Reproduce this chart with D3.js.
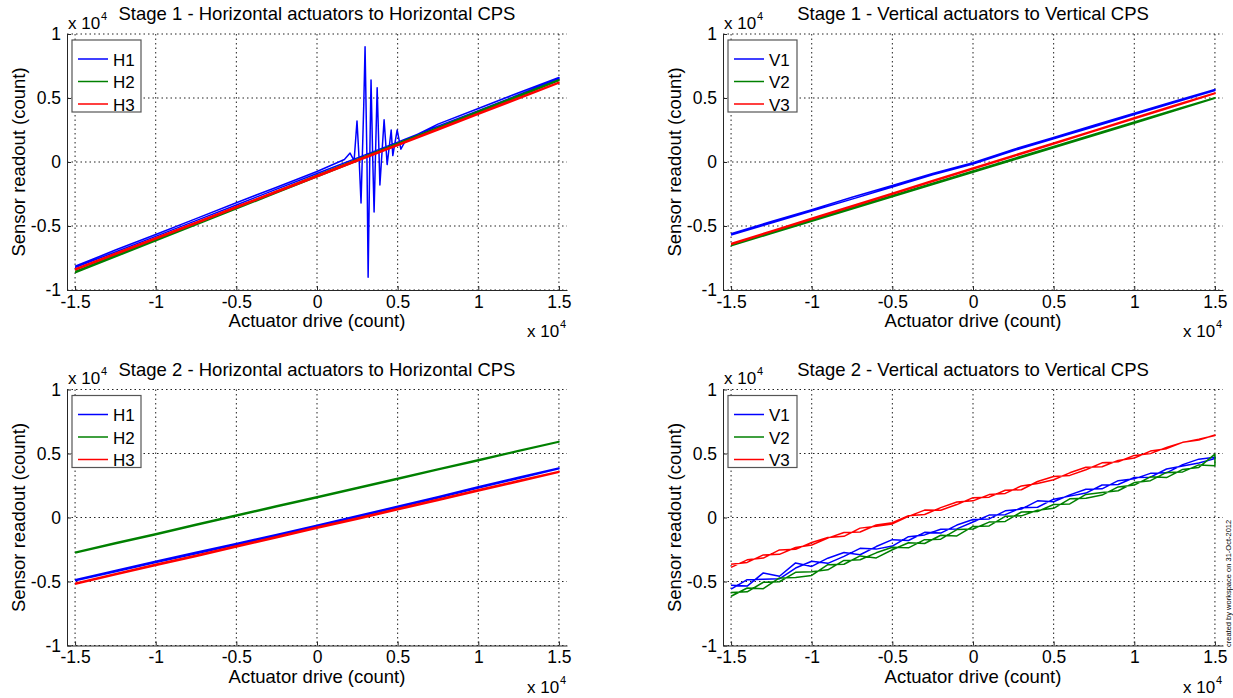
<!DOCTYPE html>
<html>
<head>
<meta charset="utf-8">
<script src="https://cdn.jsdelivr.net/npm/d3@7"></script>
<style>
  body { margin: 0; background: #fff; }
  svg { display: block; }
  text { font-family: "Liberation Sans", Arial, sans-serif; fill: #000; }
</style>
</head>
<body>
<svg id="chart" width="1233" height="698"></svg>
<script>
// ---- data (units of 1e4 counts) ----
var xTicks = [-1.5, -1, -0.5, 0, 0.5, 1, 1.5]
var yTicks = [-1, -0.5, 0, 0.5, 1]

var titles = [
  'Stage 1 - Horizontal actuators to Horizontal CPS',
  'Stage 1 - Vertical actuators to Vertical CPS',
  'Stage 2 - Horizontal actuators to Horizontal CPS',
  'Stage 2 - Vertical actuators to Vertical CPS'
]
var hNames = ['H1', 'H2', 'H3']
var vNames = ['V1', 'V2', 'V3']
var colors = ['#0000ff', '#008000', '#ff0000']

// coarse sweep grid for the smooth panels
var sweepX = [-1.5, -1.25, -1, -0.75, -0.5, -0.25, 0, 0.25, 0.5, 0.75, 1, 1.25, 1.5]
// fine sweep grid for the noisy stage 2 vertical panel
var fineX = [-1.5, -1.4, -1.3, -1.2, -1.1, -1, -0.9, -0.8, -0.7, -0.6, -0.5, -0.4, -0.3, -0.2, -0.1,
  0, 0.1, 0.2, 0.3, 0.4, 0.5, 0.6, 0.7, 0.8, 0.9, 1, 1.1, 1.2, 1.3, 1.4, 1.5]

// stage 1 horizontal
var s1H1up = [-0.815, -0.688, -0.566, -0.442, -0.318, -0.197, -0.074, 0.048, 0.172, 0.296, 0.418, 0.541, 0.660]
var s1H1dn = [-0.825, -0.703, -0.581, -0.458, -0.336, -0.212, -0.090, 0.032, 0.155, 0.279, 0.401, 0.525, 0.650]
var s1H2up = [-0.855, -0.728, -0.604, -0.478, -0.354, -0.228, -0.104, 0.021, 0.146, 0.270, 0.396, 0.520, 0.643]
var s1H2dn = [-0.865, -0.741, -0.615, -0.491, -0.366, -0.241, -0.116, 0.009, 0.134, 0.259, 0.384, 0.510, 0.637]
var s1H3up = [-0.836, -0.713, -0.592, -0.470, -0.348, -0.227, -0.105, 0.017, 0.138, 0.260, 0.382, 0.503, 0.624]
var s1H3dn = [-0.844, -0.723, -0.602, -0.480, -0.358, -0.237, -0.115, 0.007, 0.128, 0.250, 0.372, 0.493, 0.616]
// ringing burst on H1 during the up sweep
var h1BurstX = [0.17, 0.205, 0.23, 0.248, 0.262, 0.273, 0.29, 0.298, 0.31, 0.317, 0.328, 0.335, 0.345,
  0.354, 0.373, 0.39, 0.416, 0.435, 0.46, 0.47, 0.497, 0.52, 0.55]
var h1BurstY = [0.02, 0.07, 0.01, 0.32, 0.0, -0.32, 0.45, 0.9, 0.0, -0.9, 0.1, 0.64, 0.05,
  -0.39, 0.58, -0.18, 0.33, -0.02, 0.25, 0.05, 0.25, 0.1, 0.17]

// stage 1 vertical
var s1V1up = [-0.560, -0.465, -0.372, -0.276, -0.183, -0.090, -0.005, 0.098, 0.192, 0.287, 0.381, 0.474, 0.566]
var s1V1dn = [-0.570, -0.476, -0.383, -0.290, -0.195, -0.100, -0.015, 0.088, 0.182, 0.276, 0.370, 0.465, 0.559]
var s1V2up = [-0.645, -0.550, -0.452, -0.358, -0.262, -0.166, -0.070, 0.026, 0.121, 0.217, 0.313, 0.408, 0.503]
var s1V2dn = [-0.655, -0.559, -0.463, -0.368, -0.272, -0.176, -0.080, 0.016, 0.112, 0.207, 0.303, 0.400, 0.497]
var s1V3up = [-0.636, -0.538, -0.440, -0.341, -0.244, -0.145, -0.047, 0.051, 0.149, 0.247, 0.345, 0.443, 0.540]
var s1V3dn = [-0.644, -0.546, -0.448, -0.350, -0.252, -0.153, -0.055, 0.043, 0.141, 0.239, 0.337, 0.435, 0.534]

// stage 2 horizontal
var s2H1up = [-0.486, -0.413, -0.342, -0.272, -0.203, -0.133, -0.060, 0.013, 0.088, 0.163, 0.240, 0.315, 0.387]
var s2H1dn = [-0.494, -0.423, -0.352, -0.284, -0.213, -0.143, -0.070, 0.003, 0.078, 0.153, 0.230, 0.305, 0.381]
var s2H2up = [-0.271, -0.198, -0.126, -0.053, 0.019, 0.091, 0.163, 0.235, 0.307, 0.380, 0.452, 0.523, 0.594]
var s2H2dn = [-0.277, -0.206, -0.134, -0.061, 0.011, 0.083, 0.155, 0.227, 0.299, 0.372, 0.444, 0.517, 0.590]
var s2H3up = [-0.513, -0.440, -0.366, -0.294, -0.221, -0.148, -0.075, -0.003, 0.070, 0.143, 0.216, 0.289, 0.360]
var s2H3dn = [-0.521, -0.448, -0.376, -0.304, -0.231, -0.158, -0.085, -0.013, 0.060, 0.133, 0.206, 0.279, 0.354]

// stage 2 vertical (noisy)
var s2V1up = [-0.53, -0.536, -0.433, -0.459, -0.355, -0.382, -0.318, -0.274, -0.291, -0.227, -0.173, -0.18, -0.116, -0.122, -0.059,
  -0.015, -0.011, 0.052, 0.066, 0.13, 0.123, 0.177, 0.221, 0.224, 0.288, 0.302, 0.345, 0.349, 0.413, 0.456, 0.47]
var s2V1dn = [-0.56, -0.486, -0.483, -0.479, -0.395, -0.342, -0.358, -0.304, -0.241, -0.247, -0.223, -0.15, -0.136, -0.092, -0.089,
  -0.035, 0.019, 0.022, 0.076, 0.08, 0.143, 0.167, 0.191, 0.254, 0.258, 0.312, 0.315, 0.379, 0.403, 0.426, 0.46]
var s2V2up = [-0.615, -0.551, -0.556, -0.472, -0.468, -0.453, -0.369, -0.365, -0.30, -0.316, -0.252, -0.197, -0.203, -0.139, -0.144,
  -0.07, -0.066, 0.009, 0.013, 0.057, 0.072, 0.146, 0.15, 0.175, 0.239, 0.253, 0.318, 0.312, 0.376, 0.391, 0.495]
var s2V2dn = [-0.585, -0.581, -0.506, -0.502, -0.428, -0.423, -0.409, -0.335, -0.33, -0.276, -0.232, -0.237, -0.173, -0.169, -0.094,
  -0.09, -0.036, -0.031, 0.043, 0.047, 0.102, 0.106, 0.18, 0.195, 0.209, 0.273, 0.288, 0.352, 0.356, 0.411, 0.405]
var s2V3up = [-0.39, -0.331, -0.317, -0.253, -0.249, -0.195, -0.156, -0.147, -0.083, -0.069, -0.05, 0.009, 0.058, 0.057, 0.101,
  0.155, 0.159, 0.213, 0.217, 0.281, 0.32, 0.329, 0.373, 0.427, 0.436, 0.485, 0.499, 0.548, 0.587, 0.606, 0.645]
var s2V3dn = [-0.365, -0.351, -0.292, -0.288, -0.234, -0.215, -0.161, -0.117, -0.113, -0.059, -0.04, 0.014, 0.023, 0.077, 0.121,
  0.13, 0.179, 0.188, 0.247, 0.266, 0.295, 0.349, 0.393, 0.397, 0.446, 0.465, 0.519, 0.538, 0.587, 0.611, 0.64]

// ---- build series: up sweep then return sweep ----
function sweep(xs, up, dn){
  var pts = xs.map(function(x, i){ return [x, up[i]] })
  for(var i = xs.length - 1; i >= 0; i--) pts.push([xs[i], dn[i]])
  return pts
}

// H1 up sweep with the burst merged in
function h1Stage1(){
  var lo = h1BurstX[0], hi = h1BurstX[h1BurstX.length - 1]
  var up = sweepX.map(function(x, i){ return [x, s1H1up[i]] })
    .filter(function(p){ return p[0] < lo || p[0] > hi })
    .concat(h1BurstX.map(function(x, i){ return [x, h1BurstY[i]] }))
    .sort(function(a, b){ return a[0] - b[0] })
  for(var i = sweepX.length - 1; i >= 0; i--) up.push([sweepX[i], s1H1dn[i]])
  return up
}

var panels = [
  { title: titles[0], names: hNames, series: [h1Stage1(), sweep(sweepX, s1H2up, s1H2dn), sweep(sweepX, s1H3up, s1H3dn)] },
  { title: titles[1], names: vNames, series: [sweep(sweepX, s1V1up, s1V1dn), sweep(sweepX, s1V2up, s1V2dn), sweep(sweepX, s1V3up, s1V3dn)] },
  { title: titles[2], names: hNames, series: [sweep(sweepX, s2H1up, s2H1dn), sweep(sweepX, s2H2up, s2H2dn), sweep(sweepX, s2H3up, s2H3dn)] },
  { title: titles[3], names: vNames, series: [sweep(fineX, s2V1up, s2V1dn), sweep(fineX, s2V2up, s2V2dn), sweep(fineX, s2V3up, s2V3dn)] }
]

// ---- layout ----
var pw = 500
  , ph = 256
  , boxes = [[67, 34], [723, 34], [67, 389.5], [723, 389.5]]
  , svg = d3.select('#chart')
  , fmt = function(d){ return String(d) }

svg.append('rect').attr('width', 1233).attr('height', 698).attr('fill', '#fff')

panels.forEach(function(p, k){
  var left = boxes[k][0]
    , top = boxes[k][1]
    , x = d3.scaleLinear().domain([-1.55, 1.55]).range([left, left + pw])
    , y = d3.scaleLinear().domain([-1, 1]).range([top + ph, top])
    , g = svg.append('g')

  // dotted grid
  g.selectAll('line.gx').data(xTicks).enter().append('line')
    .attr('class', 'gx')
    .attr('x1', function(d){ return x(d) }).attr('x2', function(d){ return x(d) })
    .attr('y1', top).attr('y2', top + ph)
  g.selectAll('line.gy').data(yTicks).enter().append('line')
    .attr('class', 'gy')
    .attr('x1', left).attr('x2', left + pw)
    .attr('y1', function(d){ return y(d) }).attr('y2', function(d){ return y(d) })
  g.selectAll('line.gx, line.gy')
    .attr('stroke', '#222').attr('stroke-width', 1).attr('stroke-dasharray', '1.5,3')

  // traces
  var line = d3.line().x(function(d){ return x(d[0]) }).y(function(d){ return y(d[1]) })
  g.selectAll('path.trace').data(p.series).enter().append('path')
    .attr('class', 'trace')
    .attr('d', line)
    .attr('fill', 'none')
    .attr('stroke', function(d, i){ return colors[i] })
    .attr('stroke-width', 1.5)
    .attr('stroke-linejoin', 'round')

  // axes
  var xa = g.append('g').attr('transform', 'translate(0,' + (top + ph) + ')')
    .call(d3.axisBottom(x).tickValues(xTicks).tickFormat(fmt).tickSizeInner(-4).tickSizeOuter(0).tickPadding(5.5))
  var ya = g.append('g').attr('transform', 'translate(' + left + ',0)')
    .call(d3.axisLeft(y).tickValues(yTicks).tickFormat(fmt).tickSizeInner(-4).tickSizeOuter(0).tickPadding(6))
  ;[xa, ya].forEach(function(a){
    a.attr('font-family', null).attr('font-size', null)
    a.selectAll('path, line').attr('stroke', '#262626')
    a.selectAll('text').style('font-size', '17.5px').attr('fill', '#000')
  })

  // title and labels
  g.append('text').text(p.title)
    .attr('x', left + 250).attr('y', top - 14)
    .attr('text-anchor', 'middle').style('font-size', '18.5px')
  g.append('text').text('Actuator drive (count)')
    .attr('x', left + 250).attr('y', top + ph + 37)
    .attr('text-anchor', 'middle').style('font-size', '18.5px')
  g.append('text').text('Sensor readout (count)')
    .attr('transform', 'translate(' + (left - 42) + ',' + (top + ph / 2) + ') rotate(-90)')
    .attr('text-anchor', 'middle').style('font-size', '18.5px')

  // exponent markers
  g.append('text').text('x 10').attr('x', left + 1).attr('y', top - 5.5).style('font-size', '17px')
  g.append('text').text('4').attr('x', left + 34).attr('y', top - 14.5).style('font-size', '11px')
  g.append('text').text('x 10').attr('x', left + 460).attr('y', top + ph + 47).style('font-size', '17px')
  g.append('text').text('4').attr('x', left + 493).attr('y', top + ph + 38).style('font-size', '11px')

  // legend
  var lg = g.append('g').attr('transform', 'translate(' + (left + 5) + ',' + (top + 6) + ')')
  lg.append('rect').attr('width', 69).attr('height', 72)
    .attr('fill', '#fff').attr('stroke', '#555').attr('stroke-width', 1.2)
  var row = lg.selectAll('g.row').data(p.names).enter().append('g')
    .attr('class', 'row')
    .attr('transform', function(d, i){ return 'translate(0,' + (19 + i * 22.5) + ')' })
  row.append('line').attr('x1', 6).attr('x2', 36)
    .attr('stroke', function(d, i){ return colors[i] }).attr('stroke-width', 1.5)
  row.append('text').text(function(d){ return d })
    .attr('x', 41).attr('y', 6.5).style('font-size', '17px')
})

// workspace stamp
svg.append('text').text('created by workspace on 31-Oct-2012')
  .attr('transform', 'translate(1231,647) rotate(-90)')
  .style('font-size', '7.5px')
</script>
</body>
</html>
